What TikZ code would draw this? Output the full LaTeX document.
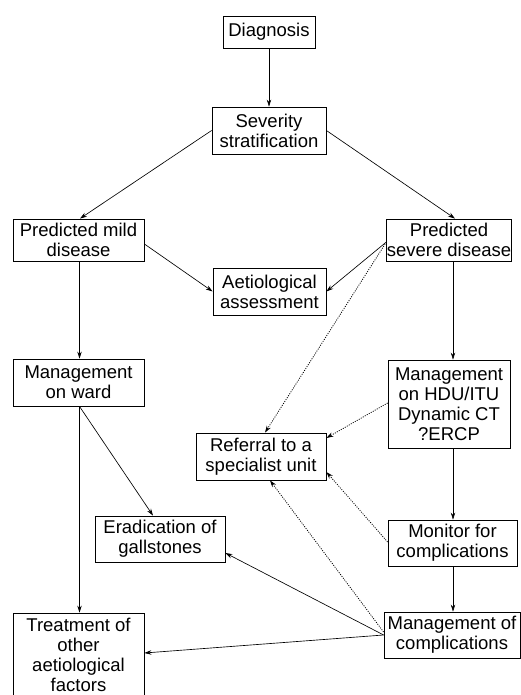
\documentclass[tikz,border=0pt]{standalone}
\usepackage{fontspec}
\setmainfont{Liberation Sans}
\usetikzlibrary{arrows.meta}
\begin{document}
\begin{tikzpicture}[x=1pt,y=1pt,
  box/.style={draw, line width=0.8pt, inner sep=0pt, align=center,
    font=\fontsize{18.5}{20}\selectfont},
  arr/.style={line width=0.65pt, -{Stealth[length=7pt,width=4.5pt]}},
  darr/.style={arr, line width=0.8pt, dash pattern=on 1pt off 1.3pt}]
\useasboundingbox (0,0) rectangle (521,695);
\node[box, minimum width=92pt, minimum height=32pt] (diag) at (269,663) {Diagnosis};
\node[box, minimum width=114pt, minimum height=47pt] (sev) at (269,564.5) {Severity\\stratification};
\node[box, minimum width=131pt, minimum height=42pt] (mild) at (78.5,455) {Predicted mild\\disease};
\node[box, minimum width=122pt, minimum height=42pt] (severe) at (449,455) {Predicted\\severe disease};
\node[box, minimum width=113pt, minimum height=47pt] (aet) at (269.5,403.5) {Aetiological\\assessment};
\node[box, minimum width=131pt, minimum height=47pt] (ward) at (78.5,312.5) {Management\\on ward};
\node[box, minimum width=122pt, minimum height=88pt] (hdu) at (449,291) {Management\\on HDU/ITU\\Dynamic CT\\?ERCP};
\node[box, minimum width=130pt, minimum height=47pt] (ref) at (261,238.5) {Referral to a\\specialist unit};
\node[box, minimum width=130pt, minimum height=46pt] (erad) at (160,156) {Eradication of\\gallstones};
\node[box, minimum width=129pt, minimum height=46pt] (mon) at (452.5,152) {Monitor for\\complications};
\node[box, minimum width=136pt, minimum height=46pt] (mgc) at (452,60) {Management of\\complications};
\node[box, minimum width=131pt, minimum height=84pt] (treat) at (78.5,40) {Treatment of\\other\\aetiological\\factors};

\draw[arr] (diag) -- (sev);
\draw[arr] (sev.west) -- ([xshift=1.5pt]mild.north);
\draw[arr] (sev.east) -- ([xshift=6pt]severe.north);
\draw[arr] ([yshift=-4pt]mild.east) -- (aet.west);
\draw[arr] ([yshift=-2pt]severe.west) -- (aet.east);
\draw[darr] ([yshift=-2pt]severe.west) -- ([xshift=4pt]ref.north);
\draw[arr] ([xshift=1pt]mild.south) -- ([xshift=1pt]ward.north);
\draw[arr] ([xshift=4pt]severe.south) -- ([xshift=4pt]hdu.north);
\draw[arr] ([xshift=1pt]ward.south) -- ([xshift=1pt]treat.north);
\draw[arr] ([xshift=1pt]ward.south) -- ([xshift=-7pt]erad.north);
\draw[darr] ([yshift=1pt]hdu.west) -- ([yshift=18.5pt]ref.east);
\draw[arr] ([xshift=4pt]hdu.south) -- ([xshift=4pt]hdu.south |- mon.north);
\draw[darr] ([yshift=1pt]mon.west) -- ([yshift=-15.5pt]ref.east);
\draw[arr] ([xshift=0.5pt]mon.south) -- ([xshift=0.5pt]mon.south |- mgc.north);
\draw[arr] (mgc.west) -- ([yshift=-14pt]erad.east);
\draw[arr] (mgc.west) -- ([yshift=2pt]treat.east);
\draw[darr] ([yshift=3pt]mgc.west) -- ([xshift=9pt]ref.south);
\end{tikzpicture}
\end{document}
